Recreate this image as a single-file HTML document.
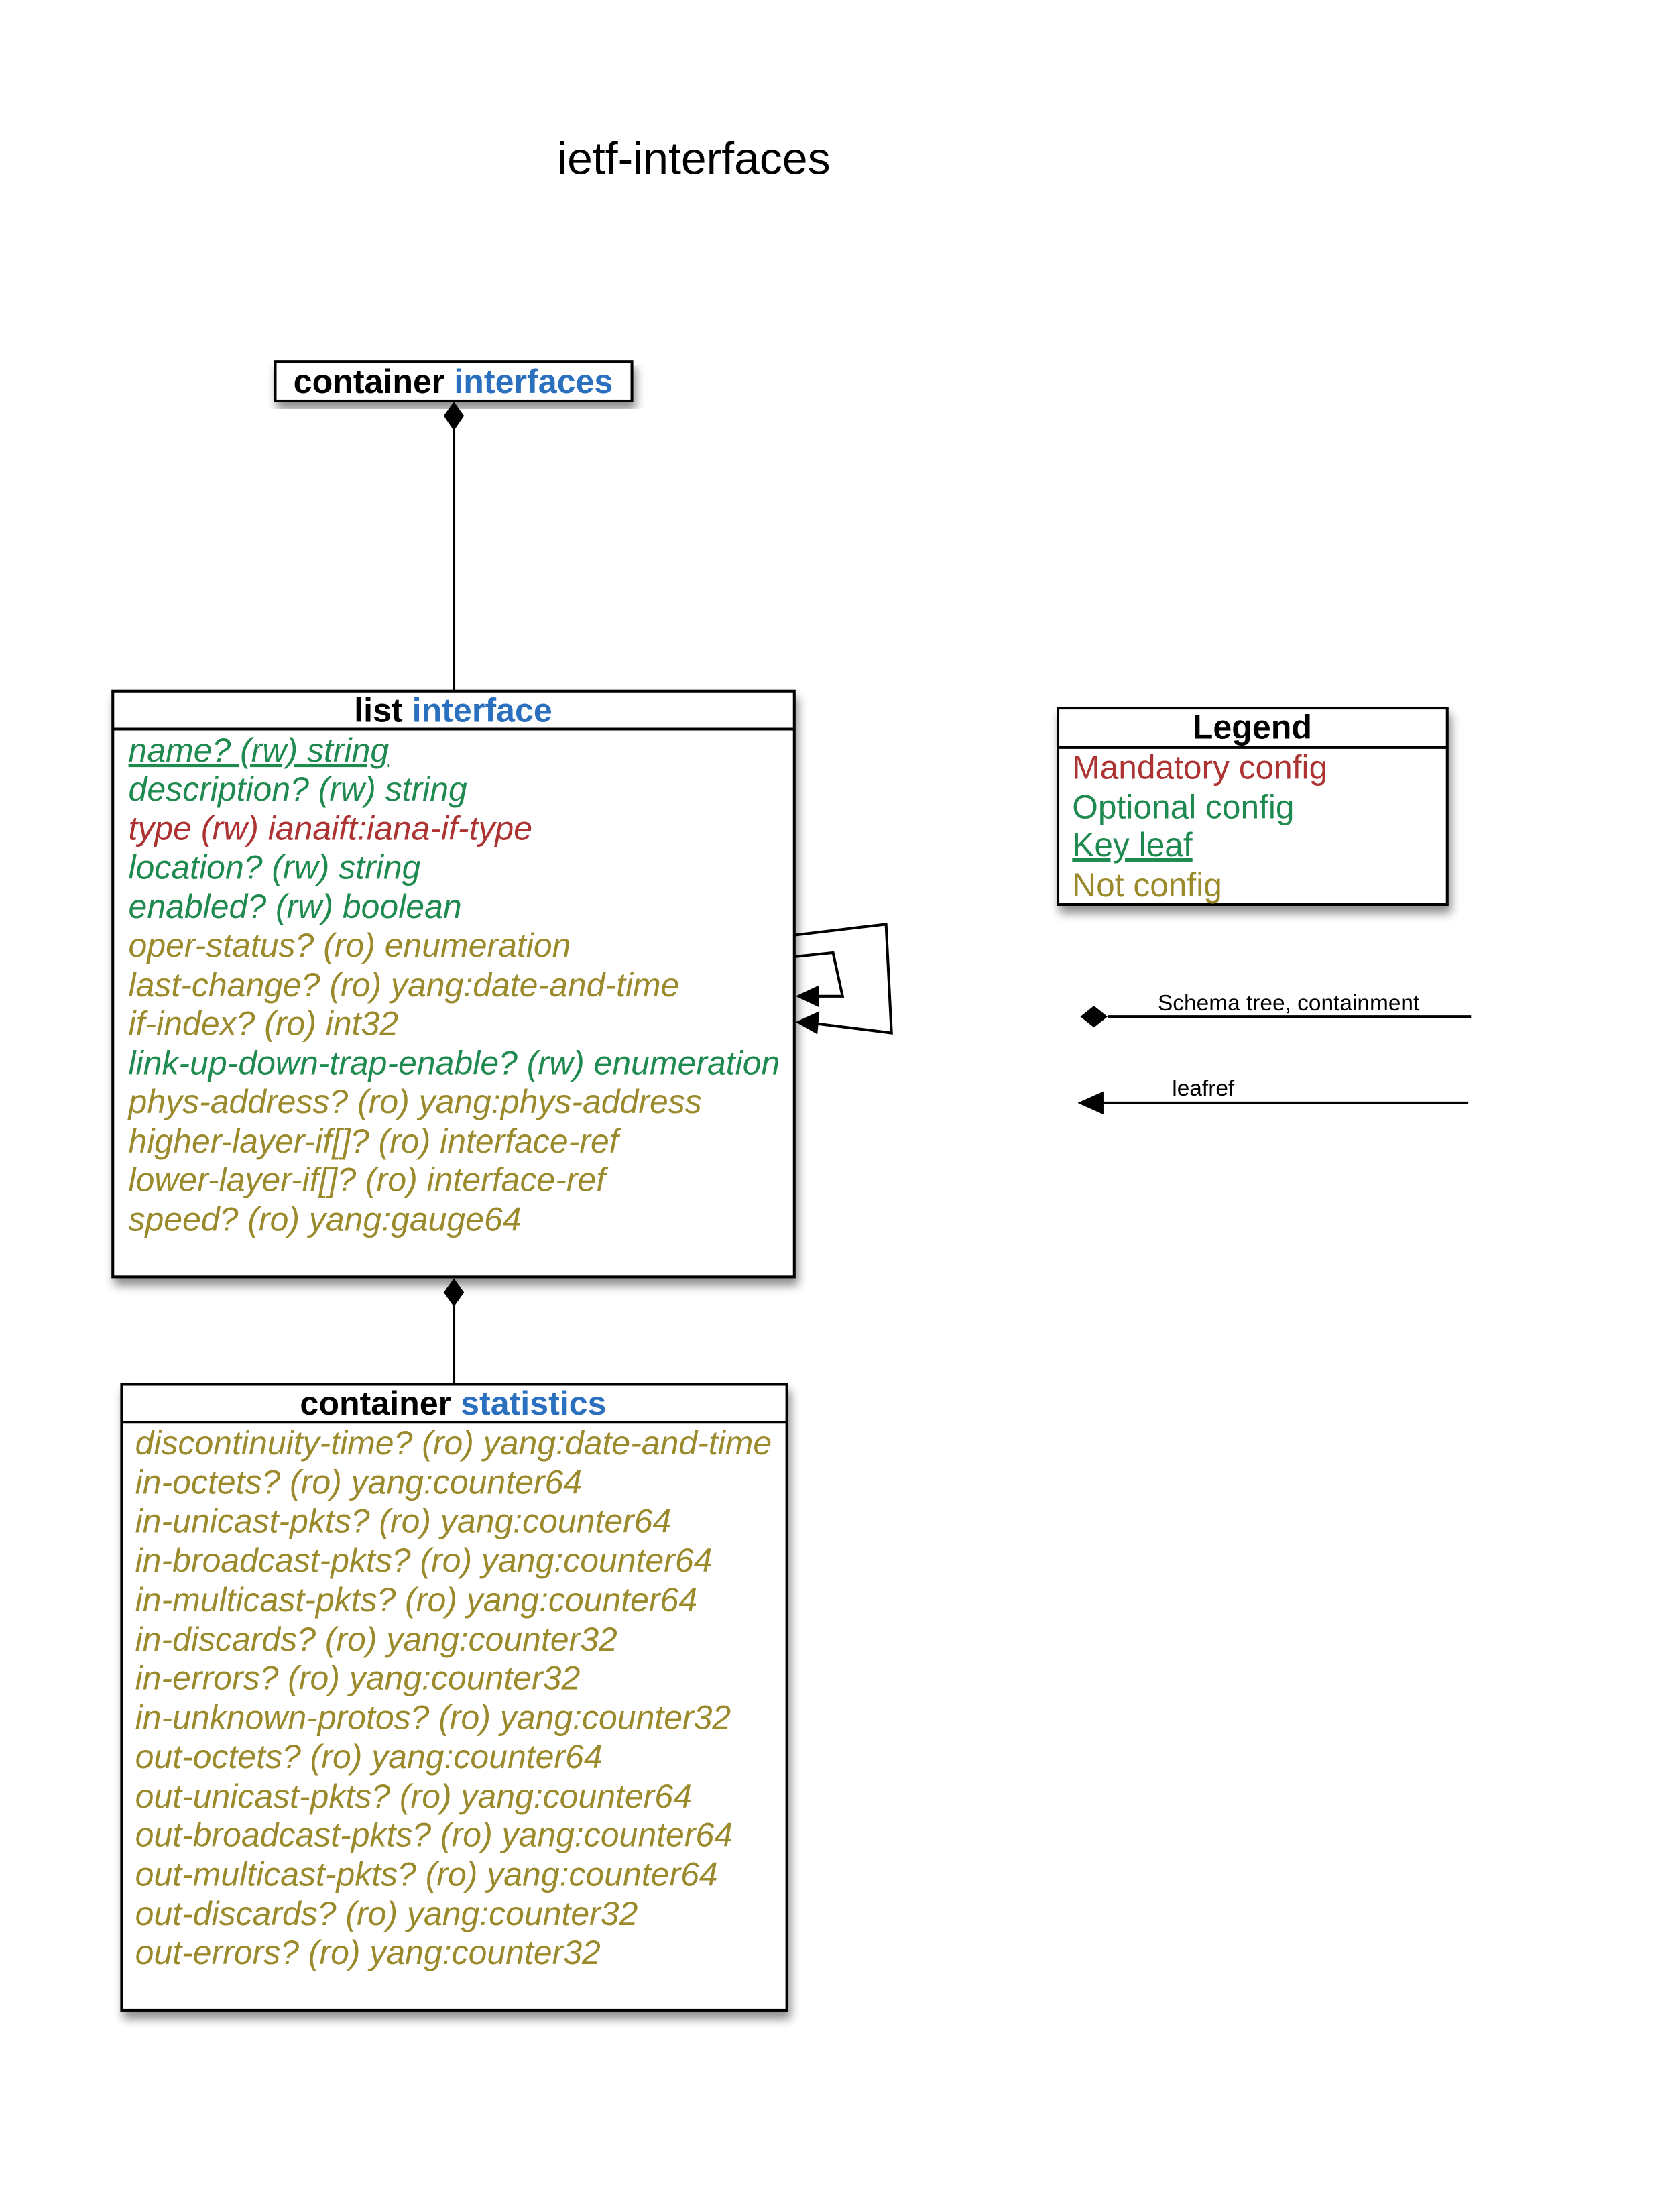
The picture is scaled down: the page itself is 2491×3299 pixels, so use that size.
<!DOCTYPE html>
<html><head><meta charset="utf-8"><style>
html,body{margin:0;padding:0;background:#fff;}
svg{display:block;}
text{font-family:"Liberation Sans",Arial,sans-serif;}
.it{font-style:italic;font-size:49.3px;}
.g{fill:#1f8a4f;}.r{fill:#ad3333;}.o{fill:#9a8a2c;}.b{fill:#2a70be;}
.hd{font-weight:bold;font-size:49.5px;text-anchor:middle;}
.lg{font-size:49px;}
</style></head><body>
<svg width="2491" height="3299" viewBox="0 0 2491 3299" xmlns="http://www.w3.org/2000/svg">
<defs>
<filter id="sh" x="-10%" y="-10%" width="130%" height="130%">
<feGaussianBlur in="SourceAlpha" stdDeviation="7"/>
<feOffset dx="4" dy="11"/>
<feComponentTransfer><feFuncA type="linear" slope="0.45"/></feComponentTransfer>
<feMerge><feMergeNode/><feMergeNode in="SourceGraphic"/></feMerge>
</filter>
</defs>
<rect width="2491" height="3299" fill="#fff"/>
<g transform="scale(1.0135)">
<text x="1021" y="256" font-size="67" text-anchor="middle">ietf-interfaces</text>

<rect x="405" y="532" width="525" height="58" fill="#fff" stroke="#000" stroke-width="4" filter="url(#sh)"/>
<text x="667" y="578" class="hd"><tspan>container </tspan><tspan class="b">interfaces</tspan></text>
<line x1="668" y1="605" x2="668" y2="1017" stroke="#000" stroke-width="4"/>
<polygon points="668,591 683,612 668,634 653,612" fill="#000"/>

<rect x="166" y="1017" width="1003" height="862" fill="#fff" stroke="#000" stroke-width="4" filter="url(#sh)"/>
<line x1="166" y1="1073" x2="1169" y2="1073" stroke="#000" stroke-width="4"/>
<text x="667" y="1062" class="hd"><tspan>list </tspan><tspan class="b">interface</tspan></text>
<g class="it">
<text x="189" y="1121" class="g" text-decoration="underline">name? (rw) string</text>
<text x="189" y="1178" class="g">description? (rw) string</text>
<text x="189" y="1236" class="r">type (rw) ianaift:iana-if-type</text>
<text x="189" y="1293" class="g">location? (rw) string</text>
<text x="189" y="1351" class="g">enabled? (rw) boolean</text>
<text x="189" y="1408" class="o">oper-status? (ro) enumeration</text>
<text x="189" y="1466" class="o">last-change? (ro) yang:date-and-time</text>
<text x="189" y="1523" class="o">if-index? (ro) int32</text>
<text x="189" y="1581" class="g">link-up-down-trap-enable? (rw) enumeration</text>
<text x="189" y="1638" class="o">phys-address? (ro) yang:phys-address</text>
<text x="189" y="1696" class="o">higher-layer-if[]? (ro) interface-ref</text>
<text x="189" y="1753" class="o">lower-layer-if[]? (ro) interface-ref</text>
<text x="189" y="1811" class="o">speed? (ro) yang:gauge64</text>
</g>

<polyline points="1169,1376 1304,1360 1312,1520 1200,1506" fill="none" stroke="#000" stroke-width="4"/>
<polygon points="1171,1504 1206,1488 1203,1522" fill="#000"/>
<polyline points="1169,1408 1226,1402 1240,1466 1200,1466" fill="none" stroke="#000" stroke-width="4"/>
<polygon points="1171,1466 1205,1450 1205,1482" fill="#000"/>

<line x1="668" y1="1910" x2="668" y2="2037" stroke="#000" stroke-width="4"/>
<polygon points="668,1881 683,1902 668,1923 653,1902" fill="#000"/>

<rect x="179" y="2037" width="979" height="921" fill="#fff" stroke="#000" stroke-width="4" filter="url(#sh)"/>
<line x1="179" y1="2093" x2="1158" y2="2093" stroke="#000" stroke-width="4"/>
<text x="667" y="2082" class="hd"><tspan>container </tspan><tspan class="b">statistics</tspan></text>
<g class="it o">
<text x="199" y="2140">discontinuity-time? (ro) yang:date-and-time</text>
<text x="199" y="2198">in-octets? (ro) yang:counter64</text>
<text x="199" y="2255">in-unicast-pkts? (ro) yang:counter64</text>
<text x="199" y="2313">in-broadcast-pkts? (ro) yang:counter64</text>
<text x="199" y="2371">in-multicast-pkts? (ro) yang:counter64</text>
<text x="199" y="2429">in-discards? (ro) yang:counter32</text>
<text x="199" y="2486">in-errors? (ro) yang:counter32</text>
<text x="199" y="2544">in-unknown-protos? (ro) yang:counter32</text>
<text x="199" y="2602">out-octets? (ro) yang:counter64</text>
<text x="199" y="2660">out-unicast-pkts? (ro) yang:counter64</text>
<text x="199" y="2717">out-broadcast-pkts? (ro) yang:counter64</text>
<text x="199" y="2775">out-multicast-pkts? (ro) yang:counter64</text>
<text x="199" y="2833">out-discards? (ro) yang:counter32</text>
<text x="199" y="2890">out-errors? (ro) yang:counter32</text>
</g>

<rect x="1557" y="1042" width="573" height="289" fill="#fff" stroke="#000" stroke-width="4" filter="url(#sh)"/>
<line x1="1557" y1="1100" x2="2130" y2="1100" stroke="#000" stroke-width="4"/>
<text x="1843" y="1087" class="hd">Legend</text>
<text x="1578" y="1146" class="lg r">Mandatory config</text>
<text x="1578" y="1204" class="lg g">Optional config</text>
<text x="1578" y="1260" class="lg g" text-decoration="underline">Key leaf</text>
<text x="1578" y="1319" class="lg o">Not config</text>

<line x1="1630" y1="1496" x2="2165" y2="1496" stroke="#000" stroke-width="4"/>
<polygon points="1590,1496 1610,1480 1630,1496 1610,1512" fill="#000"/>
<text x="1704" y="1487" font-size="33">Schema tree, containment</text>
<line x1="1610" y1="1623" x2="2161" y2="1623" stroke="#000" stroke-width="4"/>
<polygon points="1586,1623 1624,1606 1624,1640" fill="#000"/>
<text x="1725" y="1612" font-size="33">leafref</text>
</g>
</svg>
</body></html>
